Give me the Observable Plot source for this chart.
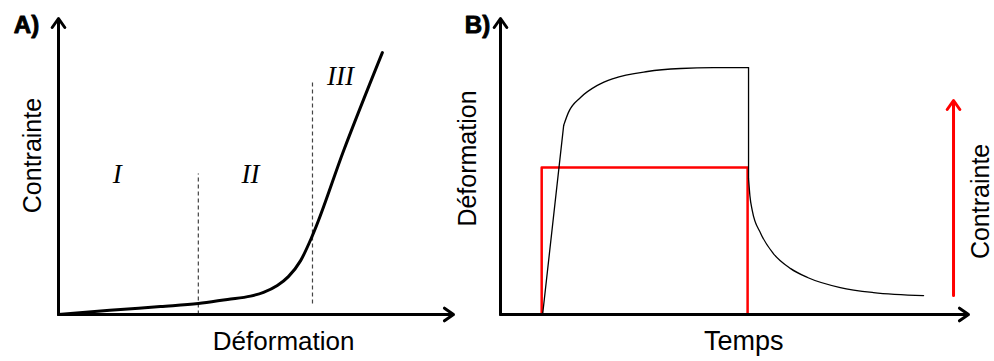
<!DOCTYPE html>
<html>
<head>
<meta charset="utf-8">
<script src="https://cdn.jsdelivr.net/npm/d3@7"></script>
<script src="https://cdn.jsdelivr.net/npm/@observablehq/plot@0.6"></script>
<style>
  html, body { margin: 0; padding: 0; background: #fff; }
  #wrap { position: relative; width: 994px; height: 361px; overflow: hidden; background: #fff; }
  #wrap svg { position: absolute; top: 0; overflow: visible; background: transparent; }
</style>
</head>
<body>
<div id="wrap"></div>
<script>
// ---------- Panel A: stress–strain curve ----------
const strainA = [0, 1.3, 2.58, 3.54, 4.28, 4.86, 5.19, 5.54, 5.82, 6.13, 6.43, 7.22, 8.20];
const stressA = [0, 0.14, 0.27, 0.37, 0.51, 0.62, 0.75, 0.98, 1.28, 1.82, 2.67, 5.54, 8.85];
const boundaryStrain = [3.54, 6.43];
const boundaryBottom = [0, 0.37];
const boundaryTop = [4.76, 7.9];
const regionLabels = ["I", "II", "III"];
const regionStrain = [1.49, 4.86, 7.14];
const regionStress = [4.73, 4.73, 8.04];

// ---------- Panel B: creep / recovery ----------
const loadTime = [0.90, 1.35];
const loadStrain = [0, 6.39];
const creepTime = [1.35, 1.45, 1.71, 2.07, 2.41, 3.14, 3.85, 4.55, 5.30];
const creepStrain = [6.39, 6.82, 7.33, 7.74, 7.97, 8.21, 8.31, 8.34, 8.34];
const unloadTime = [5.30, 5.30];
const unloadStrain = [8.34, 4.6];
const recoveryTime = [5.30, 5.33, 5.38, 5.56, 5.83, 6.20, 6.56, 7.26, 7.97, 9.04];
const recoveryStrain = [4.6, 4.0, 3.51, 2.74, 2.06, 1.55, 1.25, 0.91, 0.74, 0.64];
const stressTime = [0.88, 0.88, 5.28, 5.28];
const stressLevel = [0, 4.97, 4.97, 0];
const stressArrowX = 9.68;
const stressArrowFrom = 0.64;
const stressArrowTo = 7.23;

const titles = { a: "A)", b: "B)", strain: "Déformation", stress: "Contrainte", time: "Temps" };

const zip = (xs, ys) => xs.map((x, i) => ({x, y: ys[i]}));
const SANS = "Liberation Sans, Arial, sans-serif";
const SERIF = "Liberation Serif, Times New Roman, serif";

const axes = [
  Plot.arrow([{x1: 0, y1: 0, x2: 10, y2: 0}, {x1: 0, y1: 0, x2: 0, y2: 10}],
    {x1: "x1", y1: "y1", x2: "x2", y2: "y2", stroke: "black", strokeWidth: 3, headLength: 5.5, headAngle: 70})
];

// Panel A
const plotA = Plot.plot({
  width: 460, height: 361,
  marginLeft: 58, marginRight: 7, marginTop: 18, marginBottom: 47,
  x: {domain: [0, 10], axis: null},
  y: {domain: [0, 10], axis: null},
  style: {background: "transparent", overflow: "visible"},
  marks: [
    Plot.link(boundaryStrain.map((s, i) => ({x: s, y1: boundaryBottom[i], y2: boundaryTop[i]})),
      {x1: "x", x2: "x", y1: "y1", y2: "y2", stroke: "#444", strokeWidth: 1.2, strokeDasharray: "4,3"}),
    Plot.line(zip(strainA, stressA), {x: "x", y: "y", stroke: "black", strokeWidth: 3, curve: "monotone-x"}),
    ...axes,
    Plot.text(regionLabels.map((t, i) => ({t, x: regionStrain[i], y: regionStress[i]})),
      {x: "x", y: "y", text: "t", fontFamily: SERIF, fontStyle: "italic", fontSize: 27, fill: "black", lineAnchor: "middle"}),
    Plot.text([titles.strain], {x: 5.70, y: 0, dy: 27, text: d => d, fontFamily: SANS, fontSize: 26, fill: "black", lineAnchor: "middle"}),
    Plot.text([titles.stress], {x: 0, dx: -26, y: 5.37, rotate: -90, text: d => d, fontFamily: SANS, fontSize: 25, fill: "black", lineAnchor: "middle"}),
    Plot.text([titles.a], {x: 0, dx: -32, y: 10, dy: 7, text: d => d, fontFamily: SANS, fontWeight: "bold", fontSize: 24, fill: "black", stroke: "black", strokeWidth: 0.9, lineAnchor: "middle"})
  ]
});
plotA.style.left = "0px";

// Panel B
const plotB = Plot.plot({
  width: 534, height: 361,
  marginLeft: 40, marginRight: 26, marginTop: 18, marginBottom: 47,
  x: {domain: [0, 10], axis: null},
  y: {domain: [0, 10], axis: null},
  style: {background: "transparent", overflow: "visible"},
  marks: [
    Plot.line(zip(stressTime, stressLevel), {x: "x", y: "y", stroke: "#ff0000", strokeWidth: 2.5}),
    Plot.line(zip(loadTime, loadStrain), {x: "x", y: "y", stroke: "black", strokeWidth: 1.3}),
    Plot.line(zip(creepTime, creepStrain), {x: "x", y: "y", stroke: "black", strokeWidth: 1.3, curve: "monotone-x"}),
    Plot.line(zip(unloadTime, unloadStrain), {x: "x", y: "y", stroke: "black", strokeWidth: 1.3}),
    Plot.line(zip(recoveryTime, recoveryStrain), {x: "x", y: "y", stroke: "black", strokeWidth: 1.3, curve: "monotone-x"}),
    ...axes,
    Plot.arrow([{x: stressArrowX, y1: stressArrowFrom, y2: stressArrowTo}],
      {x1: "x", x2: "x", y1: "y1", y2: "y2", stroke: "#ff0000", strokeWidth: 3, headLength: 5.5, headAngle: 70}),
    Plot.text([titles.time], {x: 5.2, y: 0, dy: 27, text: d => d, fontFamily: SANS, fontSize: 27, fill: "black", lineAnchor: "middle"}),
    Plot.text([titles.strain], {x: 0, dx: -33, y: 5.27, rotate: -90, text: d => d, fontFamily: SANS, fontSize: 25, fill: "black", lineAnchor: "middle"}),
    Plot.text([titles.stress], {x: 10.27, y: 3.82, rotate: -90, text: d => d, fontFamily: SANS, fontSize: 25, fill: "black", lineAnchor: "middle"}),
    Plot.text([titles.b], {x: 0, dx: -23, y: 10, dy: 7, text: d => d, fontFamily: SANS, fontWeight: "bold", fontSize: 24, fill: "black", stroke: "black", strokeWidth: 0.9, lineAnchor: "middle"})
  ]
});
plotB.style.left = "460px";

document.getElementById("wrap").append(plotA, plotB);
</script>
</body>
</html>
